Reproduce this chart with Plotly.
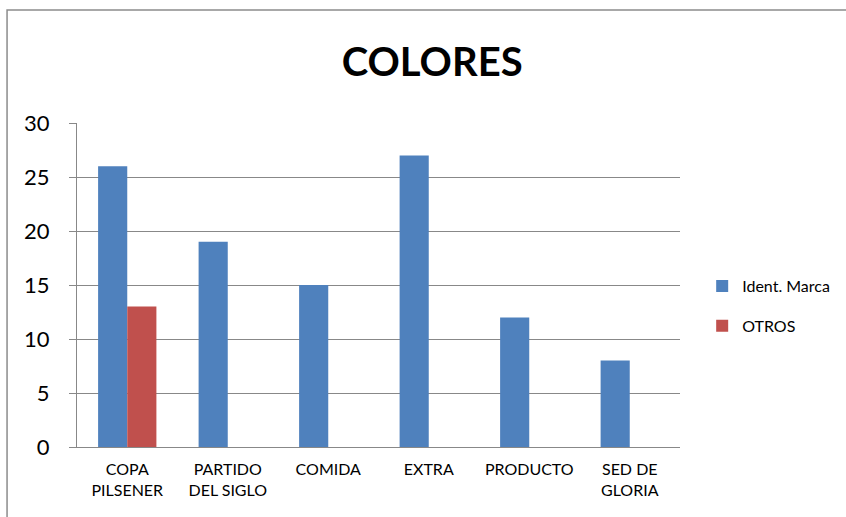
import plotly.graph_objects as go

categories = ["COPA<br>PILSENER", "PARTIDO<br>DEL SIGLO", "COMIDA", "EXTRA", "PRODUCTO", "SED DE<br>GLORIA"]
ident_marca = [26, 19, 15, 27, 12, 8]
otros = [13, 0, 0, 0, 0, 0]
y_ticks = [0, 5, 10, 15, 20, 25, 30]

FONT = "Lato, Calibri, Carlito, sans-serif"

fig = go.Figure()
fig.add_trace(go.Bar(x=categories, y=ident_marca, name="Ident. Marca", legendgroup="a",
                     marker=dict(color="#4F81BD", line=dict(width=0))))
fig.add_trace(go.Bar(x=categories, y=otros, name="OTROS", legendgroup="b",
                     marker=dict(color="#C0504D", line=dict(width=0))))

fig.update_layout(
    width=846, height=517,
    margin=dict(l=77, r=166, t=123, b=70, autoexpand=False),
    paper_bgcolor="white", plot_bgcolor="white",
    barmode="group", bargap=0.42, bargroupgap=0,
    title=dict(text="<b>COLORES</b>", x=0.589, xref="paper", xanchor="center", y=0.88, yanchor="middle",
               font=dict(family=FONT, size=40, color="black")),
    font=dict(family=FONT, color="black"),
    legend=dict(xref="container", yref="container", x=0.83, y=0.408, xanchor="left", yanchor="middle",
                font=dict(size=16, color="black"),
                traceorder="grouped", tracegroupgap=16, itemwidth=30, bgcolor="rgba(0,0,0,0)"),
    showlegend=True,
)
fig.update_xaxes(showline=True, linecolor="#888888", linewidth=1, tickfont=dict(size=16, color="black"),
                 ticks="", showgrid=False, ticklabelstandoff=8)
fig.update_yaxes(range=[0, 30], tickvals=y_ticks, showline=True, linecolor="#888888", linewidth=1,
                 showgrid=True, gridcolor="#888888", gridwidth=1, ticks="outside", ticklen=7,
                 tickcolor="#888888", tickfont=dict(size=22, color="black"), zeroline=False,
                 ticklabelstandoff=15)
fig.add_shape(type="rect", xref="paper", yref="paper", x0=-0.116, y0=-1.0, x1=2.0, y1=1.349,
              line=dict(color="#8c8c8c", width=1.5), fillcolor="rgba(0,0,0,0)", layer="below")

fig.write_html("out.html")
